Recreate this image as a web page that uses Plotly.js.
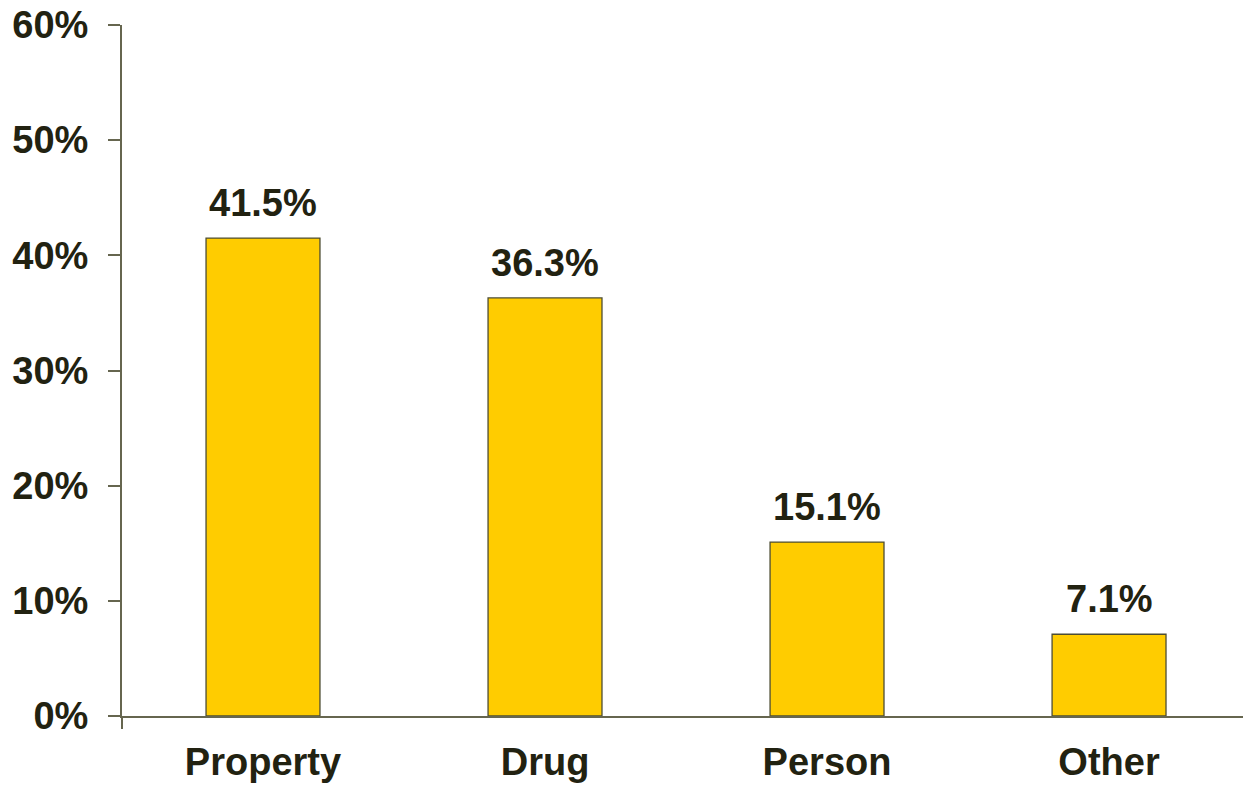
<!DOCTYPE html>
<html>
<head>
<meta charset="utf-8">
<script src="https://cdn.plot.ly/plotly-3.0.1.min.js"></script>
<style>html,body{margin:0;padding:0;background:#fff;}#chart{width:1243px;height:786px;}</style>
</head>
<body>
<div id="chart"></div>
<script>
const categories = ["Property", "Drug", "Person", "Other"];
const values = [41.5, 36.3, 15.1, 7.1];
const valueLabels = ["41.5%", "36.3%", "15.1%", "7.1%"];
const yTickVals = [0, 10, 20, 30, 40, 50, 60];
const yTickText = ["0%", "10%", "20%", "30%", "40%", "50%", "60%"];

const textColor = "#222211";
const axisColor = "#66664f";
const fontFam = "Liberation Sans, Arial, sans-serif";

const trace = {
  type: "bar",
  x: categories,
  y: values,
  width: 0.404,
  marker: { color: "#FFCC00", line: { color: "#4d4d33", width: 1.3 } },
  hoverinfo: "skip"
};

const annotations = categories.map((c, i) => ({
  x: c, y: values[i], xref: "x", yref: "y",
  text: "<b>" + valueLabels[i] + "</b>",
  showarrow: false, yanchor: "bottom", yshift: 12,
  font: { family: fontFam, size: 38, color: textColor }
}));

const layout = {
  width: 1243, height: 786,
  margin: { l: 122, r: 0, t: 25, b: 70, pad: 0 },
  paper_bgcolor: "#fff", plot_bgcolor: "#fff",
  showlegend: false,
  font: { family: fontFam, color: textColor },
  xaxis: {
    type: "category",
    range: [-0.5, 3.475],
    showline: true, linecolor: axisColor, linewidth: 2,
    ticks: "", showgrid: false, zeroline: false,
    tickfont: { family: fontFam, size: 38, color: textColor },
    ticklabelstandoff: 11,
    tickprefix: "<b>", ticksuffix: "</b>"
  },
  yaxis: {
    range: [0, 60],
    tickvals: yTickVals, ticktext: yTickText.map(t => "<b>" + t + "</b>"),
    showline: true, linecolor: axisColor, linewidth: 2,
    ticks: "outside", ticklen: 12, tickwidth: 2, tickcolor: axisColor,
    showgrid: false, zeroline: false,
    tickfont: { family: fontFam, size: 38, color: textColor },
    ticklabelstandoff: 12
  },
  annotations: annotations,
  shapes: [{
    type: "line", xref: "paper", yref: "paper",
    ysizemode: "pixel", yanchor: 0,
    x0: 0, x1: 0, y0: 0, y1: -13,
    line: { color: axisColor, width: 2 }
  }]
};

Plotly.newPlot("chart", [trace], layout, { displayModeBar: false, staticPlot: true });
</script>
</body>
</html>
